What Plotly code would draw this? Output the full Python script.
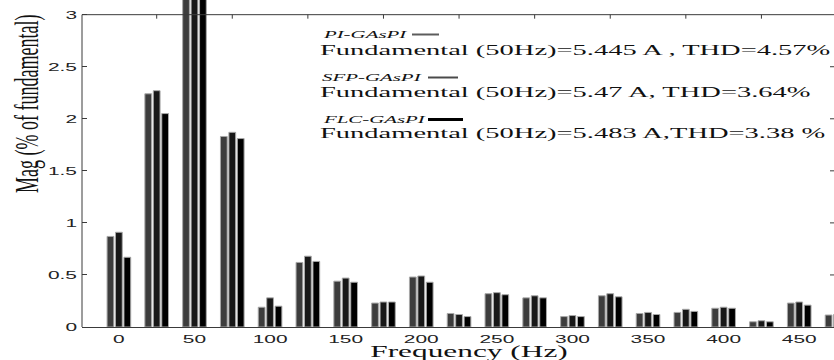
import plotly.graph_objects as go

# ---- data ----
freq = [0, 25, 50, 75, 100, 125, 150, 175, 200, 225, 250, 275, 300, 325, 350, 375, 400, 425, 450, 475]
pi_gaspi = [0.87, 2.24, 100, 1.83, 0.19, 0.62, 0.44, 0.23, 0.48, 0.13, 0.32, 0.28, 0.10, 0.30, 0.13, 0.14, 0.18, 0.05, 0.23, 0.115]
sfp_gaspi = [0.91, 2.27, 100, 1.87, 0.28, 0.68, 0.47, 0.24, 0.49, 0.12, 0.33, 0.30, 0.11, 0.32, 0.14, 0.17, 0.19, 0.06, 0.24, 0.12]
flc_gaspi = [0.67, 2.05, 100, 1.81, 0.20, 0.63, 0.43, 0.24, 0.43, 0.10, 0.31, 0.28, 0.10, 0.29, 0.12, 0.15, 0.18, 0.05, 0.21, 0.10]

series_names = ["PI-GAsPI", "SFP-GAsPI", "FLC-GAsPI"]
series_info = [
    "Fundamental (50Hz)=5.445 A , THD=4.57%",
    "Fundamental (50Hz)=5.47 A, THD=3.64%",
    "Fundamental (50Hz)=5.483 A,THD=3.38 %",
]
x_tick_vals = [0, 50, 100, 150, 200, 250, 300, 350, 400, 450]
y_tick_vals = [0, 0.5, 1, 1.5, 2, 2.5, 3]
y_tick_text = ["0", "0.5", "1", "1.5", "2", "2.5", "3"]
top_tick_vals = [25, 75, 125, 175, 225, 275, 325, 375, 425, 475]

# ---- styles ----
bar_colors = ["#3d3d3d", "#181818", "#000000"]
sample_colors = ["#5c5c5c", "#4a4a4a", "#000000"]
sample_widths = [2, 2, 3]
SERIF = "Liberation Serif, Times New Roman, serif"
SANS = "Liberation Sans, Arial, sans-serif"

W, H = 834, 360
ML, MT, MB = 82, 0, 33
PW, PH = W - ML, H - MT - MB
YTOP = 3.141


def px(x):
    return (x - ML) / PW


def py(y):
    return (MT + PH - y) / PH


fig = go.Figure()
for name, vals, col in zip(series_names, [pi_gaspi, sfp_gaspi, flc_gaspi], bar_colors):
    fig.add_trace(go.Bar(
        x=freq, y=vals, name=name,
        marker=dict(color=col, line=dict(color="#a8a8a8", width=1)),
        showlegend=False,
    ))

annotations = []
shapes = []

# legend-like text block
label_y = [34, 77, 119]
info_y = [50, 92, 133]
sample_x = [(412, 439), (428, 458), (428, 463)]
for i in range(3):
    annotations.append(dict(
        text=series_names[i], xref="paper", yref="paper", x=px(320), y=py(label_y[i]),
        xanchor="left", yanchor="middle", align="left", showarrow=False,
        font=dict(family=SERIF, size=11, color="#111", style="italic"),
    ))
    annotations.append(dict(
        text=series_info[i], xref="paper", yref="paper", x=px(318), y=py(info_y[i]),
        xanchor="left", yanchor="middle", align="left", showarrow=False,
        font=dict(family=SERIF, size=15, color="#111"),
    ))
    shapes.append(dict(
        type="line", xref="paper", yref="paper",
        x0=px(sample_x[i][0]), x1=px(sample_x[i][1]),
        y0=py(label_y[i] + 0.5), y1=py(label_y[i] + 0.5),
        line=dict(color=sample_colors[i], width=sample_widths[i]),
    ))

# axis titles
annotations.append(dict(
    text="Frequency (Hz)", xref="paper", yref="paper", x=px(469), y=py(351),
    xanchor="center", yanchor="middle", showarrow=False,
    font=dict(family=SERIF, size=16.5, color="#111"),
))
annotations.append(dict(
    text="Mag (% of fundamental)", xref="paper", yref="paper", x=px(27), y=py(104),
    xanchor="center", yanchor="middle", showarrow=False, textangle=-90,
    font=dict(family=SERIF, size=18, color="#111"),
))

# frame: left and top lines, top ticks, right ticks
frame_col = "#3a3a3a"
shapes.append(dict(type="line", xref="paper", yref="y", x0=0, x1=0, y0=0, y1=3,
                   line=dict(color=frame_col, width=1)))
shapes.append(dict(type="line", xref="paper", yref="y", x0=0, x1=1, y0=3, y1=3,
                   line=dict(color=frame_col, width=1)))
tick_len_y = 4 / (PH / YTOP)
for tv in top_tick_vals:
    shapes.append(dict(type="line", xref="x", yref="y", x0=tv, x1=tv, y0=3, y1=3 - tick_len_y,
                       line=dict(color=frame_col, width=1)))
for yv in y_tick_vals[1:-1]:
    shapes.append(dict(type="line", xref="paper", yref="y", x0=px(830), x1=1, y0=yv, y1=yv,
                       line=dict(color=frame_col, width=1)))

fig.update_layout(
    width=W, height=H,
    margin=dict(l=ML, r=0, t=MT, b=MB, pad=0),
    paper_bgcolor="white", plot_bgcolor="white",
    barmode="group", bargap=0.33, bargroupgap=0.2,
    annotations=annotations, shapes=shapes,
    xaxis=dict(range=[-24.4, 473], tickvals=x_tick_vals, showgrid=False, zeroline=False,
               showline=True, linecolor=frame_col, linewidth=1, ticks="",
               tickfont=dict(family=SANS, size=11, color="#222"), ticklabelstandoff=2),
    yaxis=dict(range=[0, YTOP], tickvals=y_tick_vals, ticktext=y_tick_text, showgrid=False,
               zeroline=False, showline=False, ticks="inside", ticklen=5, tickcolor=frame_col,
               tickfont=dict(family=SANS, size=11, color="#222"), ticklabelstandoff=4),
)

stretch_js = """
document.body.style.margin = '0';
document.body.style.padding = '0';
var gd = document.getElementById('{plot_id}');
var S = 1.9;
function stretchAll(){
  var texts = gd.querySelectorAll('.xtick text, .ytick text, .annotation-text');
  texts.forEach(function(t){
    if (t.getAttribute('data-st')) return;
    var svg = t.ownerSVGElement;
    var r = t.getBoundingClientRect();
    var P = t.parentNode.getScreenCTM();
    var a = t.getAttribute('text-anchor') || 'start';
    var rotated = Math.abs(P.b) > 1e-6;
    var sx = rotated || a === 'middle' ? (r.left + r.right) / 2 : (a === 'end' ? r.right : r.left);
    var T = svg.createSVGMatrix().translate(sx, 0).scaleNonUniform(S, 1).translate(-sx, 0);
    var M = P.inverse().multiply(T).multiply(P);
    var old = t.getAttribute('transform') || '';
    t.setAttribute('transform', 'matrix(' + [M.a, M.b, M.c, M.d, M.e, M.f].join(',') + ') ' + old);
    t.setAttribute('data-st', '1');
  });
}
stretchAll();
"""

fig.write_html("out.html", post_script=stretch_js, config={"displayModeBar": False})
